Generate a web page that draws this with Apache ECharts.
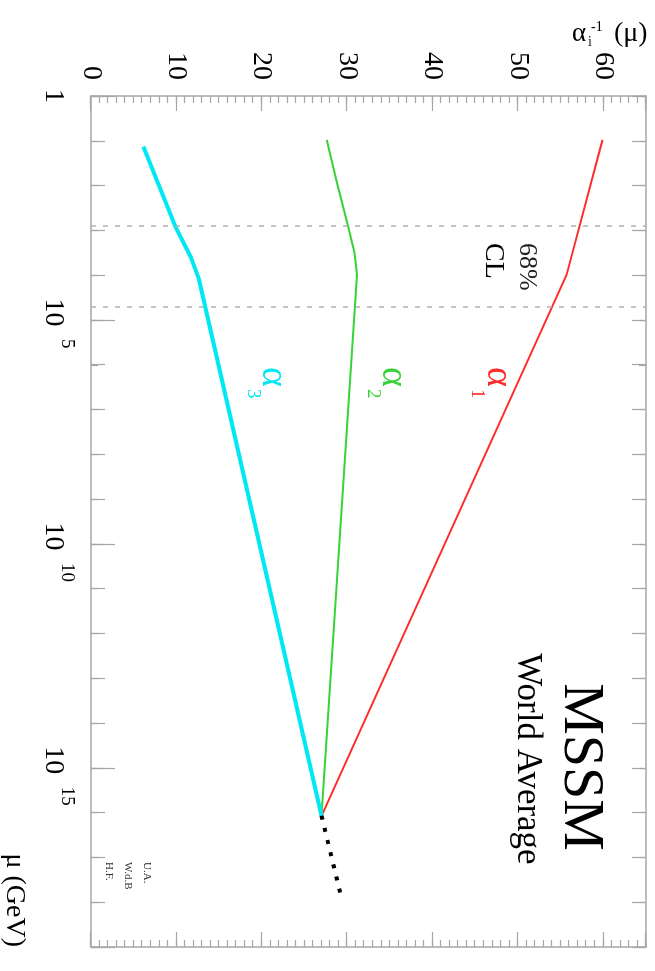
<!DOCTYPE html>
<html>
<head>
<meta charset="utf-8">
<script src="https://cdn.jsdelivr.net/npm/echarts@6/dist/echarts.min.js"></script>
<style>
  html, body { margin: 0; padding: 0; background: #fff; overflow: hidden; width: 655px; height: 971px; }
  /* the plot is laid out landscape and turned a quarter turn clockwise */
  #chart { position: absolute; left: 655px; top: 0; width: 971px; height: 655px;
           transform-origin: 0 0; transform: rotate(90deg); }
</style>
</head>
<body>
<div id="chart"></div>
<script>
// Running inverse gauge couplings alpha_i^-1 versus log10(mu / GeV), MSSM
const log10Mu1 = [0.98, 3.99, 16.07];
const invAlpha1 = [59.9, 55.7, 27.0];

const log10Mu2 = [0.98, 1.94, 2.90, 3.50, 3.99, 16.07];
const invAlpha2 = [27.6, 28.8, 30.1, 30.85, 31.15, 27.0];

const log10Mu3 = [1.13, 2.90, 3.60, 4.10, 16.07];
const invAlpha3 = [6.13, 9.84, 11.7, 12.65, 27.0];

// extrapolation beyond the unification point
const log10MuExtrap = [16.07, 17.92];
const invAlphaExtrap = [27.0, 29.35];

// 68% CL band of the SUSY threshold
const clBounds = [2.90, 4.71];

// tick labels: mantissa and exponent of each labelled decade
const muTickExponents = [0, 5, 10, 15];
const muTickBases = ['1', '10', '10', '10'];
const muTickPowers = ['', '5', '10', '15'];
const alphaTicks = [0, 10, 20, 30, 40, 50, 60];

const SERIF = '"Liberation Serif", "DejaVu Serif", serif';
const FRAME = '#a6a6a6';

const zip = (xs, ys) => xs.map((x, i) => [x, ys[i]]);
function tickIndex(v) {
  const i = muTickExponents.indexOf(Math.round(v));
  return (i >= 0 && Math.abs(v - muTickExponents[i]) < 1e-6) ? i : -1;
}

function muAxis(position, extra) {
  return Object.assign({
    type: 'value', position: position, min: 0, max: 19, interval: 1,
    axisLine: { show: false, onZero: false },
    axisTick: { show: true, inside: true, length: 14, lineStyle: { color: FRAME, width: 1.2 } },
    axisLabel: { show: false },
    splitLine: { show: false }
  }, extra);
}
function alphaAxis(position, extra) {
  return Object.assign({
    type: 'value', position: position, min: 0, max: 65, interval: 1,
    axisLine: { show: false, onZero: false },
    axisTick: { show: true, inside: true, length: 7, lineStyle: { color: FRAME, width: 1.2 } },
    axisLabel: { show: false },
    splitLine: { show: false }
  }, extra);
}
const frameLine = { show: true, onZero: false, lineStyle: { color: FRAME, width: 1.5 } };
const HALF_DECADE = Math.log10(5) - 1; // offsets the 5x10^n ticks

const chart = echarts.init(document.getElementById('chart'), null, { renderer: 'canvas' });

chart.setOption({
  animation: false,
  backgroundColor: '#fff',
  grid: { left: 96, right: 24, top: 9, bottom: 91, containLabel: false },
  xAxis: [
    // bottom: long ticks every 5 decades, mantissa labels
    muAxis('bottom', {
      interval: 5,
      axisLine: frameLine,
      axisTick: { show: true, inside: true, length: 24, lineStyle: { color: FRAME, width: 1.2 } },
      axisLabel: {
        show: true, margin: 24, color: '#000', fontFamily: SERIF, fontSize: 28,
        formatter: function (v) {
          const i = tickIndex(v);
          if (i < 0) return '';
          return muTickPowers[i] ? '{b|' + muTickBases[i] + '}' : '{o|' + muTickBases[i] + '}';
        },
        rich: {
          b: { fontSize: 28, fontFamily: SERIF, color: '#000', padding: [0, 15, 0, 0] },
          o: { fontSize: 28, fontFamily: SERIF, color: '#000' }
        }
      }
    }),
    // exponent labels, raised and to the right of the mantissa
    muAxis('bottom', {
      interval: 5,
      axisTick: { show: false },
      axisLabel: {
        show: true, margin: 15, color: '#000', fontFamily: SERIF, fontSize: 19, align: 'left',
        formatter: function (v) {
          const i = tickIndex(v);
          return (i < 0 || !muTickPowers[i]) ? '' : '{s|' + muTickPowers[i] + '}';
        },
        rich: { s: { fontSize: 19, fontFamily: SERIF, color: '#000', padding: [0, 0, 0, 19] } }
      }
    }),
    muAxis('bottom', {}),
    muAxis('bottom', { min: HALF_DECADE, max: 19 + HALF_DECADE,
      axisTick: { show: true, inside: true, length: 7, lineStyle: { color: FRAME, width: 1.2 } } }),
    muAxis('top', { axisLine: frameLine }),
    muAxis('top', { min: HALF_DECADE, max: 19 + HALF_DECADE,
      axisTick: { show: true, inside: true, length: 7, lineStyle: { color: FRAME, width: 1.2 } } })
  ],
  yAxis: [
    alphaAxis('left', {
      interval: 10,
      axisLine: frameLine,
      axisTick: { show: true, inside: true, length: 15, lineStyle: { color: FRAME, width: 1.2 } },
      axisLabel: {
        show: true, margin: 16, color: '#000', fontFamily: SERIF, fontSize: 28,
        formatter: v => (alphaTicks.indexOf(v) >= 0 ? String(v) : '')
      }
    }),
    alphaAxis('left', {}),
    alphaAxis('right', {
      interval: 10,
      axisLine: frameLine,
      axisTick: { show: true, inside: true, length: 15, lineStyle: { color: FRAME, width: 1.2 } }
    }),
    alphaAxis('right', {})
  ],
  series: [
    {
      name: 'alpha1', type: 'line', xAxisIndex: 0, yAxisIndex: 0,
      data: zip(log10Mu1, invAlpha1), symbol: 'none', silent: true,
      lineStyle: { color: '#ff2a2a', width: 2 },
      markLine: {
        silent: true, symbol: ['none', 'none'], label: { show: false },
        lineStyle: { color: '#b0b0b0', width: 1.5, type: [5, 7] },
        data: clBounds.map(v => ({ xAxis: v }))
      }
    },
    {
      name: 'alpha2', type: 'line', xAxisIndex: 0, yAxisIndex: 0,
      data: zip(log10Mu2, invAlpha2), symbol: 'none', silent: true,
      lineStyle: { color: '#3ad23a', width: 2 }
    },
    {
      name: 'alpha3', type: 'line', xAxisIndex: 0, yAxisIndex: 0,
      data: zip(log10Mu3, invAlpha3), symbol: 'none', silent: true,
      lineStyle: { color: '#00e8f2', width: 4 }
    },
    {
      name: 'extrapolation', type: 'line', xAxisIndex: 0, yAxisIndex: 0,
      data: zip(log10MuExtrap, invAlphaExtrap), symbol: 'none', silent: true,
      lineStyle: { color: '#000', width: 4, type: [4, 8.5], cap: 'butt' }
    }
  ],
  graphic: [
    { type: 'text', x: 767, y: 75, style: { text: 'MSSM', font: '58px ' + SERIF, fill: '#000', align: 'center', verticalAlign: 'middle' } },
    { type: 'text', x: 759, y: 128, style: { text: 'World Average', font: '35px ' + SERIF, fill: '#000', align: 'center', verticalAlign: 'middle' } },
    { type: 'text', x: 243, y: 128, style: { text: '68%', font: '26px ' + SERIF, fill: '#222', align: 'left', verticalAlign: 'middle' } },
    { type: 'text', x: 243, y: 162, style: { text: 'CL', font: '28px ' + SERIF, fill: '#000', align: 'left', verticalAlign: 'middle' } },

    { type: 'text', x: 367, y: 157, style: { text: 'α', font: '38px ' + SERIF, fill: '#ff2a2a', align: 'left', verticalAlign: 'middle' } },
    { type: 'text', x: 389, y: 178, style: { text: '1', font: '19px ' + SERIF, fill: '#ff2a2a', align: 'left', verticalAlign: 'middle' } },
    { type: 'text', x: 367, y: 262, style: { text: 'α', font: '38px ' + SERIF, fill: '#3ad23a', align: 'left', verticalAlign: 'middle' } },
    { type: 'text', x: 389, y: 282, style: { text: '2', font: '19px ' + SERIF, fill: '#3ad23a', align: 'left', verticalAlign: 'middle' } },
    { type: 'text', x: 367, y: 382, style: { text: 'α', font: '38px ' + SERIF, fill: '#00e8f2', align: 'left', verticalAlign: 'middle' } },
    { type: 'text', x: 389, y: 402, style: { text: '3', font: '19px ' + SERIF, fill: '#00e8f2', align: 'left', verticalAlign: 'middle' } },

    { type: 'text', x: 862, y: 508, style: { text: 'U.A.', font: '11px ' + SERIF, fill: '#333', align: 'left', verticalAlign: 'middle' } },
    { type: 'text', x: 862, y: 527, style: { text: 'W.d.B', font: '11px ' + SERIF, fill: '#333', align: 'left', verticalAlign: 'middle' } },
    { type: 'text', x: 862, y: 546, style: { text: 'H.F.', font: '11px ' + SERIF, fill: '#333', align: 'left', verticalAlign: 'middle' } },

    // axis titles
    { type: 'text', x: 947, y: 641, style: { text: 'μ (GeV)', font: '28px ' + SERIF, fill: '#000', align: 'right', verticalAlign: 'middle' } },
    {
      type: 'group', x: 34, y: 83, rotation: Math.PI / 2,
      children: [
        { type: 'text', x: 0, y: 0, style: { text: 'α', font: '27px ' + SERIF, fill: '#000', align: 'left', verticalAlign: 'middle' } },
        { type: 'text', x: 16, y: 8, style: { text: 'i', font: '14px ' + SERIF, fill: '#000', align: 'left', verticalAlign: 'middle' } },
        { type: 'text', x: 19, y: -7, style: { text: '-1', font: '14px ' + SERIF, fill: '#000', align: 'left', verticalAlign: 'middle' } },
        { type: 'text', x: 42, y: 0, style: { text: '(μ)', font: '28px ' + SERIF, fill: '#000', align: 'left', verticalAlign: 'middle' } }
      ]
    }
  ]
});
</script>
</body>
</html>
